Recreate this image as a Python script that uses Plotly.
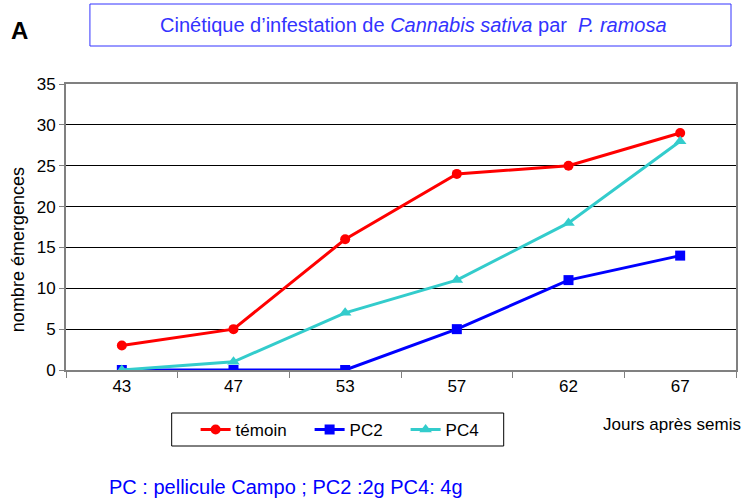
import plotly.graph_objects as go

days = ["43", "47", "53", "57", "62", "67"]
temoin = [3, 5, 16, 24, 25, 29]
pc2 = [0, 0, 0, 5, 11, 14]
pc4 = [0, 1, 7, 11, 18, 28]
y_ticks = [0, 5, 10, 15, 20, 25, 30, 35]

W, H = 746, 501
L, R, T, B = 66, 8, 84, 131
pw = W - L - R
ph = H - T - B

def px(x):
    return (x - L) / pw

def py(y):
    return (H - B - y) / ph

fig = go.Figure()
fig.add_trace(go.Scatter(x=days, y=temoin, name="témoin", mode="lines+markers",
                         legendwidth=69,
                         line=dict(color="#FF0000", width=3),
                         marker=dict(symbol="circle", size=10, color="#FF0000")))
fig.add_trace(go.Scatter(x=days, y=pc2, name="PC2", mode="lines+markers",
                         legendwidth=51,
                         line=dict(color="#0000FF", width=3),
                         marker=dict(symbol="square", size=10, color="#0000FF")))
fig.add_trace(go.Scatter(x=days, y=pc4, name="PC4", mode="lines+markers",
                         legendwidth=40,
                         line=dict(color="#33CCCC", width=3),
                         marker=dict(symbol="triangle-up", size=11, color="#33CCCC")))

font = "Liberation Sans, Arial, sans-serif"

fig.update_layout(
    width=W, height=H,
    margin=dict(l=L, r=R, t=T, b=B),
    paper_bgcolor="white", plot_bgcolor="white",
    font=dict(family=font, color="black", size=17),
    showlegend=True,
    legend=dict(orientation="h", x=px(196), y=py(430), xanchor="left", yanchor="middle",
                borderwidth=0, bgcolor="rgba(0,0,0,0)",
                font=dict(size=17), itemwidth=30, tracegroupgap=0),
    xaxis=dict(type="category", range=[-0.5, 5.5], showgrid=False,
               showline=True, linecolor="#808080", linewidth=2, mirror=True,
               ticks="outside", tickson="boundaries", ticklen=6, tickcolor="#808080",
               tickfont=dict(size=17), zeroline=False),
    yaxis=dict(range=[0, 35], tickvals=y_ticks, showgrid=True, gridcolor="black", gridwidth=1,
               showline=True, linecolor="#808080", linewidth=2, mirror=True,
               ticks="outside", ticklen=5, tickcolor="#808080",
               tickfont=dict(size=17), zeroline=False),
    shapes=[dict(type="rect", xref="paper", yref="paper",
                 x0=px(90), x1=px(733), y0=py(46), y1=py(4),
                 line=dict(color="#3333FF", width=1), fillcolor="white", layer="above"),
            dict(type="rect", xref="paper", yref="paper",
                 x0=px(172), x1=px(505), y0=py(446), y1=py(413),
                 line=dict(color="black", width=1), fillcolor="rgba(0,0,0,0)", layer="above")],
    annotations=[
        dict(text="Cinétique d’infestation de <i>Cannabis sativa</i> par  <i>P. ramosa</i>",
             xref="paper", yref="paper", x=px(415), y=py(25), showarrow=False,
             xanchor="center", yanchor="middle", font=dict(size=20, color="#3333FF")),
        dict(text="<b>A</b>", xref="paper", yref="paper", x=px(19), y=py(30), showarrow=False,
             xanchor="center", yanchor="middle", font=dict(size=24, color="black")),
        dict(text="nombre émergences", xref="paper", yref="paper", x=px(18), y=py(250),
             showarrow=False, textangle=-90, xanchor="center", yanchor="middle",
             font=dict(size=18, color="black")),
        dict(text="Jours après semis", xref="paper", yref="paper", x=px(745), y=py(424),
             showarrow=False, xanchor="right", yanchor="middle", font=dict(size=17, color="black")),
        dict(text="PC : pellicule Campo ; PC2 :2g PC4: 4g", xref="paper", yref="paper",
             x=px(107), y=py(487), showarrow=False, xanchor="left", yanchor="middle",
             font=dict(size=20, color="#0000FF")),
    ],
)

fig.write_html("out.html", config={"displayModeBar": False},
               post_script="document.body.style.margin='0';")
